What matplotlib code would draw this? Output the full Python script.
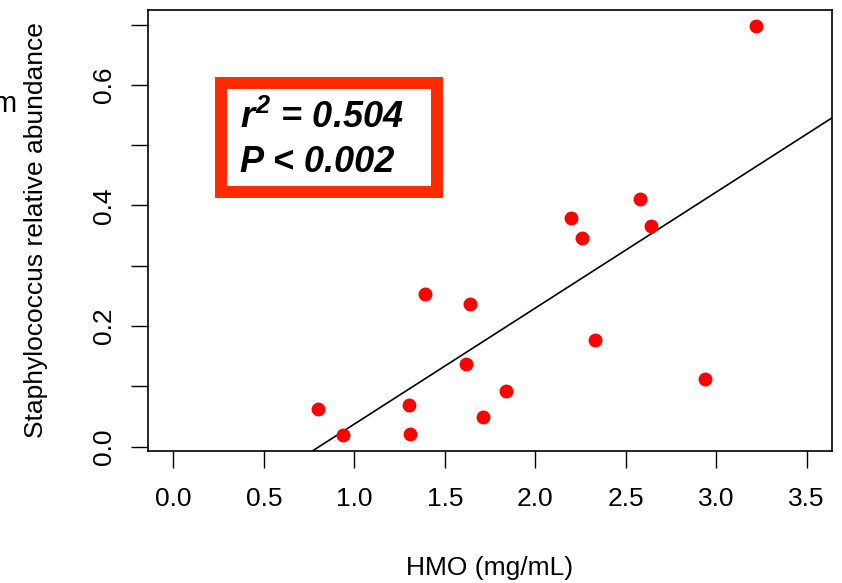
import numpy as np
import matplotlib
matplotlib.use("Agg")
import matplotlib.pyplot as plt
from matplotlib.patches import Rectangle

# ---- data ----
hmo = [0.80, 0.94, 1.30, 1.31, 1.39, 1.62, 1.64, 1.71, 1.84,
       2.20, 2.26, 2.33, 2.58, 2.64, 2.94, 3.22]
staph = [0.063, 0.020, 0.069, 0.021, 0.253, 0.137, 0.237, 0.050, 0.093,
         0.380, 0.346, 0.177, 0.410, 0.366, 0.112, 0.697]
x_ticks = [0.0, 0.5, 1.0, 1.5, 2.0, 2.5, 3.0, 3.5]
x_ticklabels = ["0.0", "0.5", "1.0", "1.5", "2.0", "2.5", "3.0", "3.5"]
y_ticks = [0.0, 0.1, 0.2, 0.3, 0.4, 0.5, 0.6, 0.7]
y_ticklabels = ["0.0", "", "0.2", "", "0.4", "", "0.6", ""]
stat_lines = [r"$r^{2}$ = 0.504", "P < 0.002"]
x_label = "HMO (mg/mL)"
y_label = "Staphylococcus relative abundance"

plt.rcParams['font.family'] = ['Liberation Sans', 'DejaVu Sans']
plt.rcParams['mathtext.fontset'] = 'custom'
plt.rcParams['mathtext.it'] = 'Liberation Sans:italic:bold'
plt.rcParams['mathtext.rm'] = 'Liberation Sans:italic:bold'

W, H = 842, 583
fig = plt.figure(figsize=(W / 100, H / 100), dpi=100)
ax = fig.add_axes([148 / W, 1 - 451 / H, (832 - 148) / W, (451 - 10) / H])

x = np.array(hmo)
y = np.array(staph)
ax.plot(x, y, 'o', color='#FF0000', markersize=10, markeredgewidth=0, zorder=3)

slope, intercept = np.polyfit(x, y, 1)
xx = np.array([-1.0, 5.0])
ax.plot(xx, intercept + slope * xx, color='black', linewidth=1.2, zorder=2)

# R-style limits (4% expansion)
xr = (0.0, 3.5)
dx = (xr[1] - xr[0]) * 0.04
ax.set_xlim(xr[0] - dx, xr[1] + dx)
yr = (min(staph), max(staph))
dy = (yr[1] - yr[0]) * 0.04
ax.set_ylim(yr[0] - dy, yr[1] + dy)

ax.set_xticks(x_ticks)
ax.set_xticklabels(x_ticklabels)
ax.set_yticks(y_ticks)
ax.set_yticklabels(y_ticklabels, rotation=90, va='center')

ax.tick_params(axis='both', direction='out', length=12.2, width=1.0,
               labelsize=19, colors='black')
ax.tick_params(axis='x', pad=14)
ax.tick_params(axis='y', pad=11)
for s in ax.spines.values():
    s.set_linewidth(1.2)
    s.set_color('black')

ax.set_xlabel(x_label, fontsize=19)
ax.xaxis.set_label_coords(0.5, -0.237)
ax.set_ylabel(y_label, fontsize=19)
ax.yaxis.set_label_coords(-0.1455, 0.5)

# clipped fragment at the far left (upright, partly cut off as in the original)
fig.text(16 / W, 1 - 112 / H, "m", ha='right', va='baseline', fontsize=21)

# annotation box
rect = Rectangle((221 / W, 1 - 192 / H), (437 - 221) / W, (192 - 83) / H,
                 transform=fig.transFigure, fill=True, facecolor='white',
                 edgecolor='#FF2A00', linewidth=8.6, zorder=5)
fig.patches.append(rect)
fig.text(240 / W, 1 - 128 / H, stat_lines[0], fontsize=26, fontweight='bold',
         fontstyle='italic', ha='left', va='baseline', zorder=6)
fig.text(240 / W, 1 - 172 / H, stat_lines[1], fontsize=26, fontweight='bold',
         fontstyle='italic', ha='left', va='baseline', zorder=6)

fig.savefig("out.png", dpi=100)
